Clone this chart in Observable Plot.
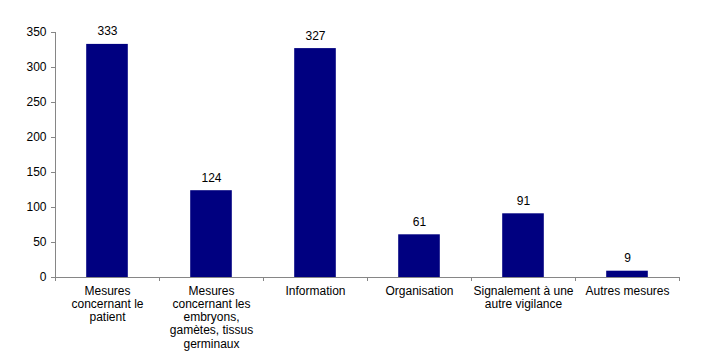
<!DOCTYPE html>
<html>
<head>
<meta charset="utf-8">
<script src="https://cdn.jsdelivr.net/npm/d3@7"></script>
<script src="https://cdn.jsdelivr.net/npm/@observablehq/plot@0.6"></script>
<style>
  html, body { margin: 0; padding: 0; background: #fff; }
  #chart svg { display: block; }
</style>
</head>
<body>
<div id="chart"></div>
<script>
const categories = [
  "Mesures\nconcernant le\npatient",
  "Mesures\nconcernant les\nembryons,\ngamètes, tissus\ngerminaux",
  "Information",
  "Organisation",
  "Signalement à une\nautre vigilance",
  "Autres mesures"
];
const values = [333, 124, 327, 61, 91, 9];
const yTicks = [0, 50, 100, 150, 200, 250, 300, 350];

const data = categories.map((c, i) => ({cat: c, i, value: values[i]}));

const W = 703, H = 357;
const mL = 55, mR = 24, mT = 32, mB = 80;
const step = (W - mL - mR) / categories.length;
const inset = step * 0.3;
const axisColor = "#868686";

const chart = Plot.plot({
  width: W,
  height: H,
  marginLeft: mL,
  marginRight: mR,
  marginTop: mT,
  marginBottom: mB,
  style: {fontFamily: "'Liberation Sans', Arial, sans-serif", fontSize: "12px", color: "#000", background: "#fff", overflow: "visible"},
  x: {type: "linear", domain: [0, categories.length], axis: null},
  y: {domain: [0, 350], axis: null},
  marks: [
    Plot.rectY(data, {x1: d => d.i, x2: d => d.i + 1, y: "value", fill: "#000080", insetLeft: inset, insetRight: inset}),
    Plot.ruleY([0], {stroke: axisColor}),
    Plot.ruleX([0], {stroke: axisColor}),
    Plot.axisY({ticks: yTicks, tickSize: 4, tickPadding: 5, stroke: axisColor, label: null, fill: "#000", fontSize: 12}),
    Plot.ruleX(d3.range(categories.length + 1), {x: d => d, y1: 0, y2: 0, insetBottom: -4, stroke: axisColor}),
    Plot.text(data, {x: d => d.i + 0.5, y: "value", text: d => String(d.value), dy: -9, lineAnchor: "bottom", fill: "#000", fontSize: 12}),
    Plot.text(data, {x: d => d.i + 0.5, y: 0, text: "cat", dy: 8, lineAnchor: "top", lineHeight: 1.1, fill: "#000", fontSize: 12})
  ]
});
document.getElementById("chart").appendChild(chart);
</script>
</body>
</html>
